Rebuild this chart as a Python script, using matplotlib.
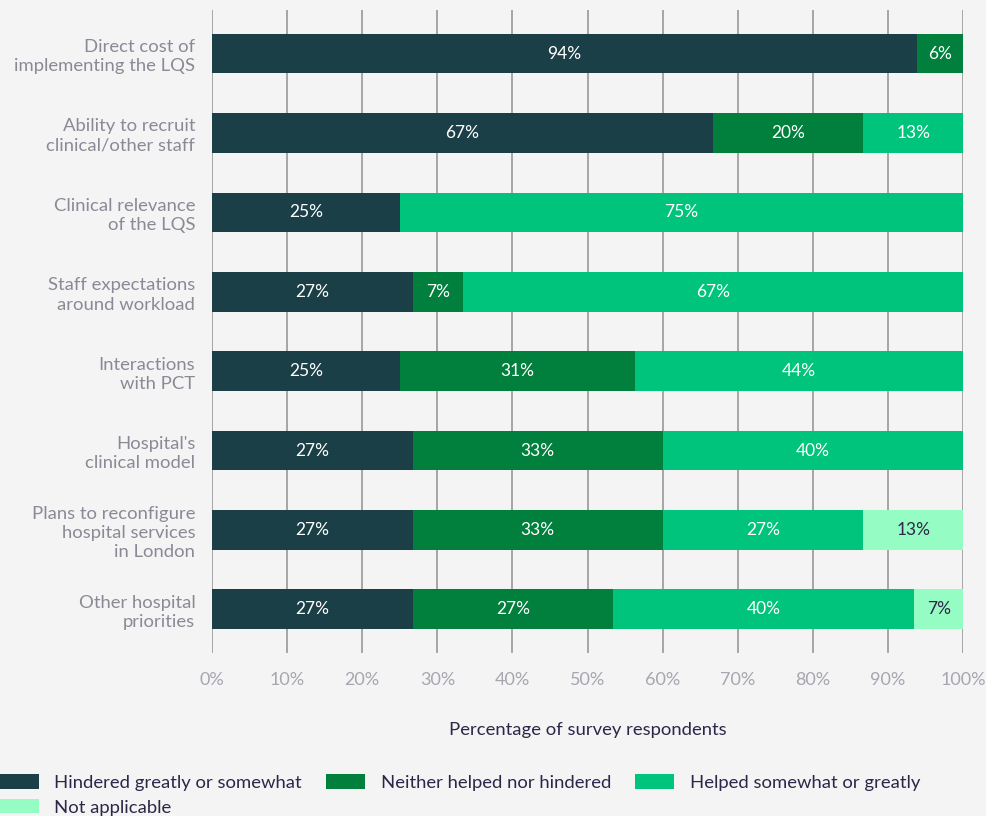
import matplotlib.pyplot as plt
import numpy as np

# Data (share of respondents, %)
factors = [
    'Direct cost of\nimplementing the LQS',
    'Ability to recruit\nclinical/other staff',
    'Clinical relevance\nof the LQS',
    'Staff expectations\naround workload',
    'Interactions\nwith PCT',
    "Hospital's\nclinical model",
    'Plans to reconfigure\nhospital services\nin London',
    'Other hospital\npriorities',
]
hindered = [93.9, 66.7, 25.0, 26.7, 25.0, 26.7, 26.7, 26.7]
neither = [6.1, 20.0, 0.0, 6.7, 31.25, 33.3, 33.3, 26.7]
helped = [0.0, 13.3, 75.0, 66.7, 43.75, 40.0, 26.7, 40.0]
not_applicable = [0.0, 0.0, 0.0, 0.0, 0.0, 0.0, 13.3, 6.7]

series = [
    ('Hindered greatly or somewhat', hindered, '#1b3f47', 'white'),
    ('Neither helped nor hindered', neither, '#00803c', 'white'),
    ('Helped somewhat or greatly', helped, '#00c47b', 'white'),
    ('Not applicable', not_applicable, '#95fdc3', '#2e2648'),
]

plt.rcParams['font.family'] = ['Lato', 'DejaVu Sans']
bg = '#f4f4f4'

fig = plt.figure(figsize=(9.87, 8.16), dpi=100, facecolor=bg)
ax = fig.add_axes([0.2148, 0.1998, 0.761, 0.788], facecolor=bg)

y = np.arange(len(factors))
left = np.zeros(len(factors))
handles = []
for name, vals, color, tcolor in series:
    vals = np.array(vals)
    bars = ax.barh(y, vals, left=left, height=0.5, color=color, label=name, zorder=3)
    handles.append(bars)
    for bar, v in zip(bars, vals):
        if v > 0:
            ax.text(bar.get_x() + bar.get_width() / 2, bar.get_y() + bar.get_height() / 2,
                    f'{round(v)}%', ha='center', va='center', color=tcolor,
                    fontsize=12.5, zorder=4)
    left += vals

ax.set_xlim(0, 100)
ax.set_ylim(len(factors) - 0.45, -0.55)
ax.set_yticks(y)
ax.set_yticklabels(factors, fontsize=13.3, color='#8a8a96', linespacing=1.25)
ax.set_xticks(np.arange(0, 101, 10))
ax.set_xticklabels([f'{t}%' for t in range(0, 101, 10)], fontsize=13, color='#a6a6b0')
ax.tick_params(length=0, pad=14)
ax.tick_params(axis='y', pad=12)
ax.grid(axis='x', color='#a5a5a5', linewidth=1.4, zorder=0)
for s in ax.spines.values():
    s.set_visible(False)
ax.set_xlabel('Percentage of survey respondents', fontsize=13.3, color='#2e2648', labelpad=24)

# column-wise fill: reorder so rows read 1,2,3 / 4
order = [0, 3, 1, 2]
leg = fig.legend([handles[i] for i in order], [series[i][0] for i in order],
                 loc='upper left', bbox_to_anchor=(0.0, 0.051), ncol=3, frameon=False,
                 fontsize=13.3, handlelength=2.1, handleheight=0.8, handletextpad=0.85,
                 columnspacing=1.3, borderaxespad=0, borderpad=0, labelspacing=0.45)
for t in leg.get_texts():
    t.set_color('#2e2648')

fig.savefig('out.png', dpi=100, facecolor=bg)
